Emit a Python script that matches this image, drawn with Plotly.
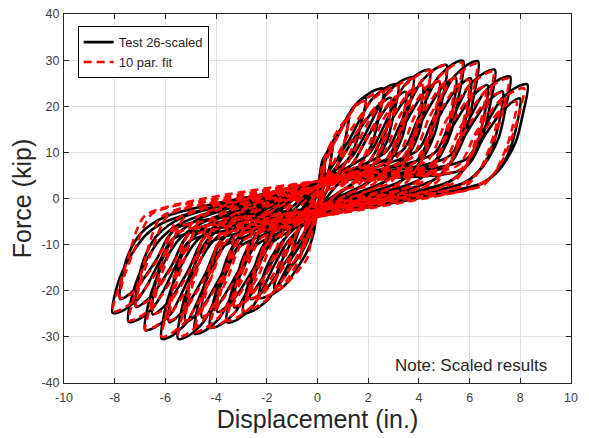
import plotly.graph_objects as go

# ---- Test 26-scaled: one list per cycle (displacement in., force kip) ----
# main cycle of each amplitude followed (from 3.2 in. on) by its repeat cycle
test_x = [
    [0, 0.15, 0.3, 0.22, 0.05, -0.1, -0.25, -0.18, 0],
    [0.3, 0.6, 0.48, 0.25, 0, -0.25, -0.55, -0.45, -0.2, 0],
    [0.25, 0.65, 1.0, 1.25, 1.1, 0.85, 0.45, 0, -0.2, -0.55, -0.85, -1.1, -0.97, -0.7, -0.35, 0],
    [0.25, 0.62, 1.02, 1.35, 1.65, 1.9, 1.7, 1.45, 1.05, 0.55, 0, -0.2, -0.6, -0.95, -1.3, -1.7, -1.57, -1.3, -0.85, -0.4, 0],
    [0.2, 0.7, 1.2, 1.6, 2.2, 2.6, 2.4, 2.15, 1.75, 1.35, 0.8, 0, -0.15, -0.4, -0.9, -1.3, -1.9, -2.3, -2.17, -1.9, -1.45, -0.95, -0.45, 0],
    [0.79, 1.29, 1.79, 2.19, 2.79, 3.19, 2.99, 2.74, 2.34, 1.94, 1.39, 0, -0.53, -1.03, -1.53, -1.93, -2.53, -2.93, -2.8, -2.53, -2.08, -1.58, -0.83, 0],
    [0.69, 1.49, 2.29, 2.89, 2.64, 2.19, 1.39, 0, -0.43, -1.23, -2.03, -2.63, -2.38, -1.83, -0.83, 0],
    [1.38, 1.88, 2.38, 2.78, 3.38, 3.78, 3.58, 3.33, 2.93, 2.53, 1.98, 0, -1.18, -1.68, -2.18, -2.58, -3.18, -3.58, -3.45, -3.18, -2.73, -2.23, -1.48, 0],
    [1.28, 2.08, 2.88, 3.48, 3.23, 2.78, 1.98, 0, -1.08, -1.88, -2.68, -3.28, -3.03, -2.48, -1.48, 0],
    [2.04, 2.54, 3.04, 3.44, 4.04, 4.44, 4.24, 3.99, 3.59, 3.19, 2.64, 0, -1.84, -2.34, -2.84, -3.24, -3.84, -4.24, -4.11, -3.84, -3.39, -2.89, -2.14, 0],
    [1.94, 2.74, 3.54, 4.14, 3.89, 3.44, 2.64, 0, -1.74, -2.54, -3.34, -3.94, -3.69, -3.14, -2.14, 0],
    [2.7, 3.2, 3.7, 4.1, 4.7, 5.1, 4.9, 4.65, 4.25, 3.85, 3.3, 0, -2.45, -2.95, -3.45, -3.85, -4.45, -4.85, -4.72, -4.45, -4.0, -3.5, -2.75, 0],
    [2.6, 3.4, 4.2, 4.8, 4.55, 4.1, 3.3, 0, -2.35, -3.15, -3.95, -4.55, -4.3, -3.75, -2.75, 0],
    [3.35, 3.85, 4.35, 4.75, 5.35, 5.75, 5.55, 5.3, 4.9, 4.5, 3.95, 0, -3.1, -3.6, -4.1, -4.5, -5.1, -5.5, -5.37, -5.1, -4.65, -4.15, -3.4, 0],
    [3.25, 4.05, 4.85, 5.45, 5.2, 4.75, 3.95, 0, -3.0, -3.8, -4.6, -5.2, -4.95, -4.4, -3.4, 0],
    [3.94, 4.44, 4.94, 5.34, 5.94, 6.34, 6.14, 5.89, 5.49, 5.09, 4.54, 0, -3.75, -4.25, -4.75, -5.15, -5.75, -6.15, -6.02, -5.75, -5.3, -4.8, -4.05, 0],
    [3.84, 4.64, 5.44, 6.04, 5.79, 5.34, 4.54, 0, -3.65, -4.45, -5.25, -5.85, -5.6, -5.05, -4.05, 0],
    [4.6, 5.1, 5.6, 6.0, 6.6, 7.0, 6.8, 6.55, 6.15, 5.75, 5.2, 0, -4.4, -4.9, -5.4, -5.8, -6.4, -6.8, -6.67, -6.4, -5.95, -5.45, -4.7, 0],
    [4.5, 5.3, 6.1, 6.7, 6.45, 6.0, 5.2, 0, -4.3, -5.1, -5.9, -6.5, -6.25, -5.7, -4.7, 0],
    [5.2, 5.7, 6.2, 6.6, 7.2, 7.6, 7.4, 7.15, 6.75, 6.35, 5.8, 0, -5.06, -5.56, -6.06, -6.46, -7.06, -7.46, -7.33, -7.06, -6.61, -6.11, -5.36, 0],
    [5.1, 5.9, 6.7, 7.3, 7.05, 6.6, 5.8, 0, -4.96, -5.76, -6.56, -7.16, -6.91, -6.36, -5.36, 0],
    [5.88, 6.38, 6.88, 7.28, 7.88, 8.28, 8.08, 7.83, 7.43, 7.03, 6.48, 0, -5.68, -6.18, -6.68, -7.08, -7.68, -8.08, -7.95, -7.68, -7.23, -6.73, -5.98, 0],
    [5.78, 6.58, 7.38, 7.98, 7.73, 7.28, 6.48, 0, -5.58, -6.38, -7.18, -7.78, -7.53, -6.98, -5.98, 0],
]
test_y = [
    [0, 4, 7, 3.5, -0.5, -3, -5, -2, 1.5],
    [8, 12, 7, 2.5, -2, -6.5, -10.5, -6, -1.5, 2],
    [8, 12.5, 15.8, 18.5, 13, 8, 3, -3, -6, -11, -13.5, -15, -11, -6.5, -2, 2],
    [8.5, 12.5, 16, 19.3, 21.2, 21.8, 15.7, 10.9, 7.2, 3.5, -3, -6.5, -11.5, -14, -17, -19.5, -15.6, -12.3, -7.5, -3, 2],
    [8.3, 12.6, 17.6, 20.9, 23.3, 23.8, 17.1, 11.9, 7.9, 5.2, 3.1, -3, -7.5, -11.4, -15.9, -18.9, -21.1, -21.5, -17.2, -13.5, -9.7, -6.7, -4.0, 2],
    [8.7, 13.1, 18.4, 21.8, 24.3, 24.8, 17.9, 12.4, 8.2, 5.5, 3.2, -3, -8.7, -13.1, -18.4, -21.8, -24.3, -24.8, -19.8, -15.6, -11.2, -7.7, -5.0, 2.5],
    [6.5, 13.5, 19.6, 21.8, 13.1, 7.2, 3.3, -2, -6.5, -13.5, -19.6, -21.8, -13.1, -7.6, -3.9, 3],
    [9.2, 13.9, 19.4, 23.1, 25.7, 26.2, 18.9, 13.1, 8.6, 5.8, 3.4, -3, -9.4, -14.2, -19.8, -23.6, -26.3, -26.8, -21.4, -16.9, -12.1, -8.3, -5.4, 2.5],
    [6.9, 14.3, 20.8, 23.1, 13.9, 7.6, 3.5, -2, -7.1, -14.6, -21.2, -23.6, -14.2, -8.3, -4.2, 3],
    [9.8, 14.8, 20.6, 24.6, 27.3, 27.9, 20.1, 14.0, 9.2, 6.1, 3.6, -3.8, -9.8, -14.8, -20.7, -24.6, -27.4, -28, -22.4, -17.6, -12.6, -8.7, -5.6, 3.5],
    [7.4, 15.3, 22.1, 24.6, 14.8, 8.1, 3.7, -2, -7.4, -15.3, -22.1, -24.6, -14.8, -8.6, -4.4, 3],
    [10.1, 15.3, 21.4, 25.4, 28.3, 28.9, 20.8, 14.5, 9.5, 6.4, 3.8, -3.8, -10.3, -15.5, -21.7, -25.8, -28.7, -29.3, -23.4, -18.5, -13.2, -9.1, -5.9, 3.5],
    [7.6, 15.7, 22.9, 25.4, 15.2, 8.4, 3.8, -2, -7.7, -16.0, -23.2, -25.8, -15.5, -9.0, -4.6, 3],
    [10.4, 15.8, 22.1, 26.2, 29.2, 29.8, 21.5, 14.9, 9.8, 6.6, 3.9, -3.8, -10.6, -16.1, -22.5, -26.8, -29.8, -30.4, -24.3, -19.2, -13.7, -9.4, -6.1, 3.5],
    [7.9, 16.2, 23.6, 26.2, 15.7, 8.6, 3.9, -2, -8.0, -16.6, -24.1, -26.8, -16.1, -9.4, -4.8, 3],
    [10.4, 15.7, 22.0, 26.1, 29.1, 29.7, 21.4, 14.9, 9.8, 6.5, 3.9, -3.8, -10.6, -16.1, -22.5, -26.8, -29.8, -30.4, -24.3, -19.2, -13.7, -9.4, -6.1, 3.5],
    [7.8, 16.2, 23.5, 26.1, 15.7, 8.6, 3.9, -2, -8.0, -16.6, -24.1, -26.8, -16.1, -9.4, -4.8, 3],
    [9.8, 14.8, 20.6, 24.6, 27.3, 27.9, 20.1, 14.0, 9.2, 6.1, 3.6, -3.8, -10.0, -15.1, -21.1, -25.1, -27.9, -28.5, -22.8, -18.0, -12.8, -8.8, -5.7, 3.5],
    [7.4, 15.3, 22.1, 24.6, 14.8, 8.1, 3.7, -2, -7.5, -15.6, -22.6, -25.1, -15.1, -8.8, -4.5, 3],
    [9.2, 14.0, 19.5, 23.2, 25.9, 26.4, 19.0, 13.2, 8.7, 5.8, 3.4, -3.8, -9.3, -14.2, -19.8, -23.5, -26.2, -26.7, -21.4, -16.8, -12.0, -8.3, -5.3, 3.5],
    [7.0, 14.4, 20.9, 23.2, 13.9, 7.7, 3.5, -2, -7.1, -14.6, -21.2, -23.5, -14.1, -8.2, -4.2, 3],
    [8.6, 13.1, 18.3, 21.7, 24.2, 24.7, 17.8, 12.4, 8.2, 5.4, 3.2, -3.8, -8.7, -13.1, -18.4, -21.8, -24.3, -24.8, -19.8, -15.6, -11.2, -7.7, -5.0, 3.5],
    [6.5, 13.5, 19.5, 21.7, 13.0, 7.2, 3.3, -2, -6.5, -13.5, -19.6, -21.8, -13.1, -7.6, -3.9, 3],
]

# ---- 10 par. fit: one list per cycle ----
fit_x = [
    [0, 0.15, 0.3, 0.2, 0, -0.12, -0.25, -0.15, 0],
    [0.3, 0.6, 0.45, 0.2, 0, -0.25, -0.55, -0.45, -0.2, 0],
    [0.3, 0.7, 1.0, 1.25, 1.05, 0.8, 0.4, 0, -0.25, -0.6, -0.9, -1.1, -1.0, -0.65, 0],
    [0.3, 0.9, 1.55, 1.9, 1.61, 1.35, 0.95, 0.3, 0, -0.3, -0.7, -1.35, -1.7, -1.59, -1.13, -0.4, 0],
    [0.2, 0.7, 1.6, 2.25, 2.6, 2.31, 2.05, 1.65, 1.0, 0.35, 0, -0.2, -0.4, -1.3, -1.95, -2.3, -2.19, -1.73, -1.0, 0],
    [0.6, 1.3, 2.2, 2.85, 3.2, 2.91, 2.65, 2.25, 1.6, 0.95, 0, -0.33, -1.03, -1.93, -2.58, -2.93, -2.82, -2.36, -1.63, 0],
    [0.7, 1.5, 2.4, 2.9, 2.6, 2.0, 1.1, 0, -0.43, -1.23, -2.13, -2.63, -2.48, -2.03, -1.33, 0],
    [1.2, 1.9, 2.8, 3.45, 3.8, 3.51, 3.25, 2.85, 2.2, 1.55, 0, -0.98, -1.68, -2.58, -3.23, -3.58, -3.47, -3.01, -2.28, 0],
    [1.3, 2.1, 3.0, 3.5, 3.2, 2.6, 1.7, 0, -1.08, -1.88, -2.78, -3.28, -3.13, -2.68, -1.98, 0],
    [1.85, 2.55, 3.45, 4.1, 4.45, 4.16, 3.9, 3.5, 2.85, 2.2, 0, -1.64, -2.34, -3.24, -3.89, -4.24, -4.13, -3.67, -2.94, 0],
    [1.95, 2.75, 3.65, 4.15, 3.85, 3.25, 2.35, 0, -1.74, -2.54, -3.44, -3.94, -3.79, -3.34, -2.64, 0],
    [2.5, 3.2, 4.1, 4.75, 5.1, 4.81, 4.55, 4.15, 3.5, 2.85, 0, -2.25, -2.95, -3.85, -4.5, -4.85, -4.74, -4.28, -3.55, 0],
    [2.6, 3.4, 4.3, 4.8, 4.5, 3.9, 3.0, 0, -2.35, -3.15, -4.05, -4.55, -4.4, -3.95, -3.25, 0],
    [3.12, 3.82, 4.72, 5.37, 5.72, 5.43, 5.17, 4.77, 4.12, 3.47, 0, -2.9, -3.6, -4.5, -5.15, -5.5, -5.39, -4.93, -4.2, 0],
    [3.22, 4.02, 4.92, 5.42, 5.12, 4.52, 3.62, 0, -3.0, -3.8, -4.7, -5.2, -5.05, -4.6, -3.9, 0],
    [3.7, 4.4, 5.3, 5.95, 6.3, 6.01, 5.75, 5.35, 4.7, 4.05, 0, -3.55, -4.25, -5.15, -5.8, -6.15, -6.04, -5.58, -4.85, 0],
    [3.8, 4.6, 5.5, 6.0, 5.7, 5.1, 4.2, 0, -3.65, -4.45, -5.35, -5.85, -5.7, -5.25, -4.55, 0],
    [4.35, 5.05, 5.95, 6.6, 6.95, 6.66, 6.4, 6.0, 5.35, 4.7, 0, -4.2, -4.9, -5.8, -6.45, -6.8, -6.69, -6.23, -5.5, 0],
    [4.45, 5.25, 6.15, 6.65, 6.35, 5.75, 4.85, 0, -4.3, -5.1, -6.0, -6.5, -6.35, -5.9, -5.2, 0],
    [4.95, 5.65, 6.55, 7.2, 7.55, 7.26, 7.0, 6.6, 5.95, 5.3, 0, -4.86, -5.56, -6.46, -7.11, -7.46, -7.35, -6.89, -6.16, 0],
    [5.05, 5.85, 6.75, 7.25, 6.95, 6.35, 5.45, 0, -4.96, -5.76, -6.66, -7.16, -7.01, -6.56, -5.86, 0],
    [5.55, 6.25, 7.15, 7.8, 8.15, 7.86, 7.6, 7.2, 6.55, 5.9, 0, -5.5, -6.2, -7.1, -7.75, -8.1, -7.99, -7.53, -6.8, 0],
    [5.65, 6.45, 7.35, 7.85, 7.55, 6.95, 6.05, 0, -5.6, -6.4, -7.3, -7.8, -7.65, -7.2, -6.5, 0],
]
fit_y = [
    [0, 3.5, 6.5, 2.5, -1, -3.2, -5.5, -2, 1.5],
    [7.5, 11.5, 6, 2, -2.5, -6.5, -10, -5.5, -1, 1.8],
    [8, 12.5, 15.5, 17.5, 12, 7.5, 2.5, -3.5, -6.5, -11, -13.5, -14.5, -11, -4, 1.8],
    [8, 14.5, 20.6, 21, 14.5, 10.7, 6.3, 2.5, -3.5, -7, -13, -18.6, -19, -16.9, -10.8, -2.9, 1.8],
    [7.5, 13.9, 20.4, 22.7, 23.2, 16.0, 11.8, 7.0, 2.8, 1.7, -3.5, -7, -12.9, -18.9, -21.1, -21.5, -19.1, -12.3, -3.2, 1.8],
    [7.4, 14.7, 21.6, 24.0, 24.5, 16.9, 12.5, 7.4, 2.9, 1.8, -3.5, -7.4, -14.7, -21.6, -24.0, -24.5, -21.8, -14.0, -3.7, 2.8],
    [6.5, 14.0, 20.5, 21.6, 13.0, 5.4, 2.2, -2.5, -6.5, -14.0, -20.5, -21.6, -17.3, -10.8, -3.2, 2.5],
    [7.8, 15.6, 22.9, 25.5, 26, 17.9, 13.3, 7.8, 3.1, 2.0, -3.5, -8.0, -15.9, -23.3, -26.0, -26.5, -23.6, -15.1, -4.0, 2.8],
    [6.9, 14.9, 21.8, 22.9, 13.7, 5.7, 2.3, -2.5, -7.0, -15.1, -22.1, -23.3, -18.6, -11.7, -3.5, 2.5],
    [8.3, 16.7, 24.5, 27.2, 27.8, 19.2, 14.2, 8.3, 3.3, 2.1, -3.5, -8.4, -16.8, -24.6, -27.4, -28, -24.9, -16.0, -4.2, 2.8],
    [7.4, 15.9, 23.3, 24.5, 14.7, 6.1, 2.5, -2.5, -7.4, -16.0, -23.4, -24.6, -19.7, -12.3, -3.7, 2.5],
    [8.7, 17.4, 25.5, 28.4, 29, 20.0, 14.8, 8.7, 3.5, 2.2, -4.0, -8.7, -17.4, -25.5, -28.4, -29, -25.8, -16.5, -4.4, 3.8],
    [7.7, 16.6, 24.2, 25.5, 15.3, 6.4, 2.6, -2.5, -7.7, -16.6, -24.2, -25.5, -20.4, -12.8, -3.8, 2.5],
    [8.9, 17.7, 26.0, 28.9, 29.5, 20.4, 15.0, 8.9, 3.5, 2.2, -4.0, -9.0, -18.0, -26.4, -29.4, -30, -26.7, -17.1, -4.5, 3.8],
    [7.8, 16.9, 24.7, 26.0, 15.6, 6.5, 2.6, -2.5, -7.9, -17.2, -25.1, -26.4, -21.1, -13.2, -4.0, 2.5],
    [8.8, 17.5, 25.7, 28.6, 29.2, 20.1, 14.9, 8.8, 3.5, 2.2, -4.0, -9.0, -18.0, -26.4, -29.4, -30, -26.7, -17.1, -4.5, 3.8],
    [7.7, 16.7, 24.4, 25.7, 15.4, 6.4, 2.6, -2.5, -7.9, -17.2, -25.1, -26.4, -21.1, -13.2, -4.0, 2.5],
    [8.3, 16.6, 24.3, 27.0, 27.6, 19.0, 14.1, 8.3, 3.3, 2.1, -4.0, -8.6, -17.1, -25.1, -27.9, -28.5, -25.4, -16.2, -4.3, 3.8],
    [7.3, 15.8, 23.1, 24.3, 14.6, 6.1, 2.4, -2.5, -7.5, -16.3, -23.8, -25.1, -20.1, -12.6, -3.8, 2.5],
    [7.8, 15.6, 22.9, 25.5, 26, 17.9, 13.3, 7.8, 3.1, 2.0, -4.0, -8.0, -15.9, -23.3, -26.0, -26.5, -23.6, -15.1, -4.0, 3.8],
    [6.9, 14.9, 21.8, 22.9, 13.7, 5.7, 2.3, -2.5, -7.0, -15.1, -22.1, -23.3, -18.6, -11.7, -3.5, 2.5],
    [7.2, 14.3, 21.0, 23.4, 23.9, 16.5, 12.2, 7.2, 2.9, 1.8, -4.0, -7.4, -14.8, -21.6, -24.1, -24.6, -21.9, -14.0, -3.7, 3.8],
    [6.3, 13.7, 20.0, 21.0, 12.6, 5.3, 2.1, -2.5, -6.5, -14.0, -20.5, -21.6, -17.3, -10.8, -3.2, 2.5],
]

x_ticks = [-10, -8, -6, -4, -2, 0, 2, 4, 6, 8, 10]
y_ticks = [-40, -30, -20, -10, 0, 10, 20, 30, 40]


def flatten(parts):
    out = []
    for p in parts:
        out.extend(p)
    return out


FONT = "Liberation Sans, Arial, Helvetica, sans-serif"
TXT = "#262626"

fig = go.Figure()
fig.add_trace(go.Scatter(
    x=flatten(test_x), y=flatten(test_y), mode="lines", name="Test 26-scaled",
    line=dict(color="black", width=2.6, shape="spline", smoothing=0.8),
))
fig.add_trace(go.Scatter(
    x=flatten(fit_x), y=flatten(fit_y), mode="lines", name="10 par. fit",
    line=dict(color="#ff0000", width=2.6, dash="8px,5px", shape="spline", smoothing=0.6),
))

axis_common = dict(
    showgrid=True, gridcolor="#e0e0e0", gridwidth=1, automargin=False,
    zeroline=False, showline=True, linecolor=TXT, linewidth=1,
    mirror="ticks", ticks="inside", ticklen=5, tickcolor=TXT, tickwidth=1,
    ticklabeloverflow="allow",
    tickfont=dict(family=FONT, size=12.5, color="#404040"),
)
fig.update_xaxes(range=[-10, 10], tickvals=x_ticks, ticktext=[str(v) for v in x_ticks],
                 ticklabelstandoff=3,
                 title=dict(text="Displacement (in.)", font=dict(family=FONT, size=25, color=TXT), standoff=6),
                 **axis_common)
fig.update_yaxes(range=[-40, 40], tickvals=y_ticks, ticktext=[str(v) for v in y_ticks],
                 ticklabelstandoff=1,
                 title=dict(text="Force (kip)", font=dict(family=FONT, size=25, color=TXT), standoff=5),
                 **axis_common)

fig.add_annotation(text="Note: Scaled results", xref="paper", yref="paper",
                   x=0.956, y=0.047, xanchor="right", yanchor="middle", showarrow=False,
                   font=dict(family=FONT, size=17, color=TXT))

# the page body adds an 8 px offset, so the figure is 8 px smaller with 8 px less left/top margin
fig.update_layout(
    width=581, height=430,
    margin=dict(l=56, r=18, t=6, b=55, autoexpand=False),
    paper_bgcolor="white", plot_bgcolor="white",
    showlegend=True,
    legend=dict(x=0.027, y=0.967, xanchor="left", yanchor="top",
                bgcolor="white", bordercolor="black", borderwidth=1,
                font=dict(family=FONT, size=13, color=TXT),
                itemwidth=30, tracegroupgap=0),
)

fig.write_html("out.html")
